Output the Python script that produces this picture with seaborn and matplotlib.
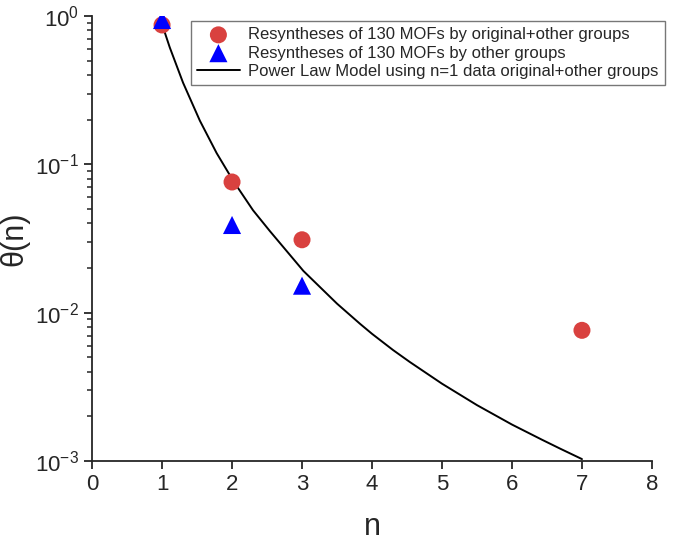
import matplotlib
matplotlib.use("Agg")
import matplotlib.pyplot as plt
import seaborn as sns
import pandas as pd

# data
n_all = [1, 2, 3, 7]
theta_all = [0.87, 0.076, 0.031, 0.0076]

n_other = [1, 2, 3]
theta_other = [0.94, 0.039, 0.0152]

n_model = [1.0, 1.11, 1.3, 1.54, 1.78, 2.02, 2.3, 2.54, 3.02, 3.5, 3.83,
           4.0, 4.3, 4.54, 5.0, 5.5, 6.0, 6.43, 6.69, 7.0]
theta_model = [0.88, 0.614, 0.355, 0.197, 0.119, 0.077, 0.049, 0.0355, 0.0191,
               0.0115, 0.0084, 0.0072, 0.0056, 0.00465, 0.00332, 0.00238,
               0.00176, 0.00139, 0.00121, 0.00103]

lab_all = "Resyntheses of 130 MOFs by original+other groups"
lab_other = "Resyntheses of 130 MOFs by other groups"
lab_model = "Power Law Model using n=1 data original+other groups"

sns.set_style("ticks")
plt.rcParams['font.family'] = ['Liberation Sans', 'DejaVu Sans']
plt.rcParams['mathtext.fontset'] = 'custom'
plt.rcParams['mathtext.rm'] = 'Liberation Sans'
plt.rcParams['mathtext.it'] = 'Liberation Sans'
plt.rcParams['axes.unicode_minus'] = False

fig = plt.figure(figsize=(6.77, 5.44), dpi=100)
ax = fig.add_axes([0.136, 0.1526, 0.827, 0.818])

df_model = pd.DataFrame({"n": n_model, "theta": theta_model})
df_all = pd.DataFrame({"n": n_all, "theta": theta_all})
df_other = pd.DataFrame({"n": n_other, "theta": theta_other})

sns.lineplot(data=df_model, x="n", y="theta", ax=ax, color="black", lw=1.4,
             label=lab_model, zorder=2)
sns.scatterplot(data=df_all, x="n", y="theta", ax=ax, color="#d9413f", s=150,
                marker="o", edgecolor="none", label=lab_all, zorder=3)
sns.scatterplot(data=df_other, x="n", y="theta", ax=ax, color="#0000ff", s=170,
                marker="^", edgecolor="none", label=lab_other, zorder=4)

ax.set_yscale("log")
ax.set_xlim(0, 8)
ax.set_ylim(1e-3, 1)
ax.set_xticks(range(0, 9))
ax.tick_params(axis="both", labelsize=16, direction="out", width=1.3, length=6)
ax.tick_params(axis="y", which="minor", direction="out", width=1.1, length=3.5)
for s in ["left", "bottom"]:
    ax.spines[s].set_linewidth(1.3)
sns.despine(ax=ax)

ax.set_xlabel("n", fontsize=22, labelpad=12)
ax.set_ylabel("θ(n)", fontsize=22, labelpad=4)

h, l = ax.get_legend_handles_labels()
order = [l.index(lab_all), l.index(lab_other), l.index(lab_model)]
ax.legend([h[i] for i in order], [l[i] for i in order],
          loc="upper right", bbox_to_anchor=(0.994, 0.976),
          bbox_transform=fig.transFigure, fontsize=12, frameon=True,
          fancybox=False, edgecolor="#555555", handlelength=2.6,
          borderpad=0.35, labelspacing=0.2, handletextpad=0.5)

fig.savefig("out.png", dpi=100)
